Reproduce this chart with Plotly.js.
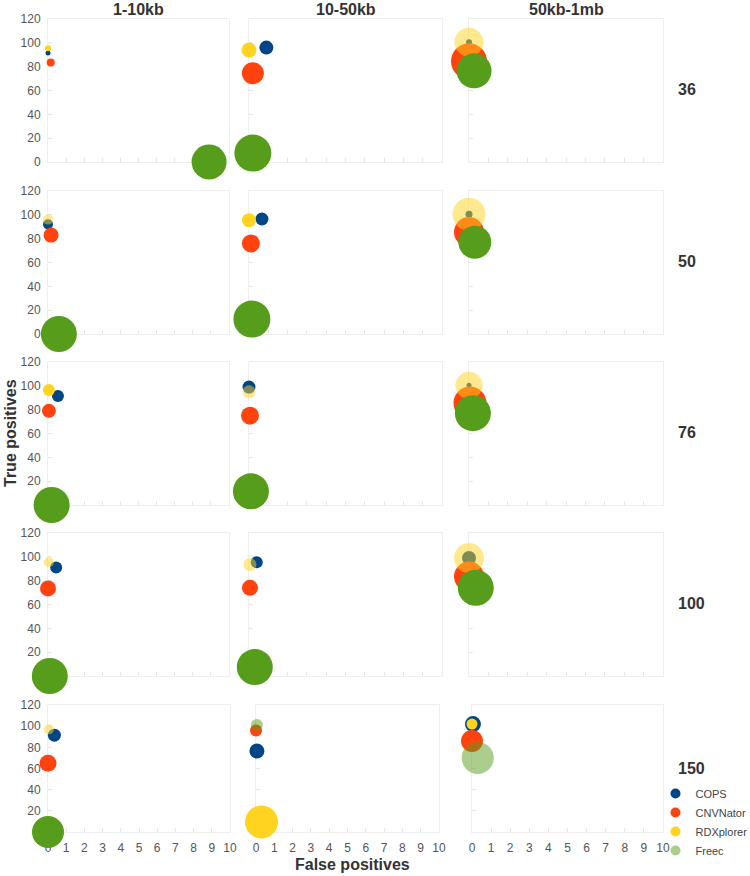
<!DOCTYPE html>
<html>
<head>
<meta charset="utf-8">
<script src="https://cdn.plot.ly/plotly-3.0.1.min.js"></script>
<style>html,body{margin:0;padding:0;background:#fff;}#chart{width:750px;height:876px;}</style>
</head>
<body>
<div id="chart"></div>
<script>
// Panels in row-major order: rows = read length, columns = CNV size range
const rowLabels = ["36", "50", "76", "100", "150"];
const colLabels = ["1-10kb", "10-50kb", "50kb-1mb"];
const methods = ["COPS", "CNVNator", "RDXplorer", "Freec"];

// False positives (x), true positives (y), bubble value per panel
const copsFP = [0, 0.9, 0, 0, 0.67, 0, 0.55, 0, 0, 0.45, 0.4, 0, 0.35, 0.05, 0.05];
const copsTP = [91.5, 96, 100.5, 92, 96.5, 100.5, 91.5, 99, 100.5, 91, 95.5, 99, 91.5, 76.5, 102];
const copsBubble = [5, 14, 6, 10, 13, 7, 12, 13, 5, 12, 12, 14, 13, 15, 16];

const cnvnatorFP = [0.15, 0.2, 0, 0.17, 0.1, 0, 0.05, 0.05, 0.05, 0, 0.05, 0, 0, 0, 0];
const cnvnatorTP = [83.5, 74.5, 84.5, 83, 76, 85.5, 79, 75, 85.5, 73.5, 74, 83.5, 65, 96, 86];
const cnvnatorBubble = [8, 22, 36, 15, 18, 30, 14, 18, 33, 16, 16, 30, 17, 12, 22];

const rdxFP = [0, 0, 0, 0, 0, 0, 0.05, 0, 0, 0.05, 0.05, 0, 0.05, 0.3, 0];
const rdxTP = [95.5, 94, 100.5, 96, 95.5, 100.5, 96.5, 95, 100.5, 95.5, 93.5, 99, 97, 9.5, 102];
const rdxBubble = [6, 15, 29, 10, 14, 33, 12, 13, 27, 10, 13, 30, 10, 33, 11];

const freecFP = [8.9, 0.2, 0.26, 0.6, 0.15, 0.3, 0.2, 0.1, 0.2, 0.1, 0.3, 0.35, 0, 0.05, 0.3];
const freecTP = [0, 7.5, 76.5, 0, 12.5, 77, 0, 11.5, 77, 0, 7.5, 74, 0, 101, 70];
const freecBubble = [35, 37, 35, 36, 37, 33, 36, 36, 36, 36, 36, 36, 32, 12, 32];

const xTicks = [0, 1, 2, 3, 4, 5, 6, 7, 8, 9, 10];
const yTicks = [0, 20, 40, 60, 80, 100, 120];

// ---- styles ----
const colors = {COPS: "#004586", CNVNator: "#ff420e", RDXplorer: "#ffd320", Freec: "#579d1c"};
const rdxOpacity = [1, 1, 0.5, 0.5, 1, 0.5, 1, 0.5, 0.5, 0.5, 0.5, 0.5, 0.5, 1, 1];
const freecOpacity = [1, 1, 1, 1, 1, 1, 1, 1, 1, 1, 1, 1, 1, 0.5, 0.5];

const W = 750, H = 876;
// pixel extents of each plot area
const rowPx = [[19, 162], [191, 334], [362, 505], [533, 676], [705, 832]];
const colPxTop = [[48, 229], [249, 442], [469, 663]];
const colPxBottom = [[48, 230], [256, 439], [472, 663]];

const series = [
  {name: "COPS", fp: copsFP, tp: copsTP, b: copsBubble, op: null},
  {name: "CNVNator", fp: cnvnatorFP, tp: cnvnatorTP, b: cnvnatorBubble, op: null},
  {name: "RDXplorer", fp: rdxFP, tp: rdxTP, b: rdxBubble, op: rdxOpacity},
  {name: "Freec", fp: freecFP, tp: freecTP, b: freecBubble, op: freecOpacity}
];

const font = "Liberation Sans, Arial, sans-serif";
const traces = [];
const layout = {
  width: W, height: H,
  margin: {l: 0, r: 0, t: 0, b: 0, autoexpand: false},
  paper_bgcolor: "#ffffff", plot_bgcolor: "#ffffff",
  font: {family: font, color: "#444444", size: 12},
  showlegend: true,
  legend: {x: 0.874, y: 1 - 822 / H, xanchor: "left", yanchor: "middle",
           font: {family: font, size: 11, color: "#444444"}, bgcolor: "rgba(0,0,0,0)",
           itemwidth: 30, tracegroupgap: 0},
  annotations: []
};

for (let r = 0; r < 5; r++) {
  for (let c = 0; c < 3; c++) {
    const i = r * 3 + c;
    const n = i + 1;
    const xa = n === 1 ? "x" : "x" + n;
    const ya = n === 1 ? "y" : "y" + n;
    const cp = (r === 4 ? colPxBottom : colPxTop)[c];
    const rp = rowPx[r];
    layout[n === 1 ? "xaxis" : "xaxis" + n] = {
      domain: [cp[0] / W, cp[1] / W], anchor: ya,
      range: [0, 10], tickvals: xTicks, showticklabels: r === 4,
      showgrid: false, zeroline: false, showline: true, mirror: true,
      linecolor: "#eeeeee", linewidth: 1, ticks: "inside", ticklen: 4, tickcolor: "#e6e6e6",
      ticklabelstandoff: 5,
      tickfont: {family: font, size: 12, color: "#555555"}, layer: "below traces", fixedrange: true
    };
    layout[n === 1 ? "yaxis" : "yaxis" + n] = {
      domain: [1 - rp[1] / H, 1 - rp[0] / H], anchor: xa,
      range: [0, 120], tickvals: yTicks, showticklabels: c === 0,
      showgrid: false, zeroline: false, showline: true, mirror: true,
      linecolor: "#eeeeee", linewidth: 1, ticks: "inside", ticklen: 4, tickcolor: "#e6e6e6",
      ticklabelstandoff: 4,
      tickfont: {family: font, size: 12, color: "#555555"}, layer: "below traces", fixedrange: true
    };
    series.forEach(s => {
      traces.push({
        type: "scatter", mode: "markers", xaxis: xa, yaxis: ya,
        x: [s.fp[i]], y: [s.tp[i]], name: s.name, legendgroup: s.name, showlegend: false,
        cliponaxis: false, hoverinfo: "skip",
        marker: {color: colors[s.name], size: [s.b[i]], sizemode: "diameter", sizeref: 1,
                 opacity: s.op ? s.op[i] : 1, line: {width: 0}}
      });
    });
  }
  layout.annotations.push({
    text: "<b>" + rowLabels[r] + "</b>", xref: "paper", yref: "paper",
    x: 676 / W, y: 1 - ((rowPx[r][0] + rowPx[r][1]) / 2 + (r === 4 ? 0 : -1)) / H,
    xanchor: "left", yanchor: "middle", showarrow: false,
    font: {family: font, size: 16, color: "#333333"}
  });
}
colLabels.forEach((t, c) => {
  const cp = colPxTop[c];
  layout.annotations.push({
    text: "<b>" + t + "</b>", xref: "paper", yref: "paper",
    x: (cp[0] + cp[1]) / 2 / W, y: 1 - 10 / H, xanchor: "center", yanchor: "middle",
    showarrow: false, font: {family: font, size: 16, color: "#333333"}
  });
});
layout.annotations.push({
  text: "<b>True positives</b>", xref: "paper", yref: "paper",
  x: 10 / W, y: 1 - 433 / H, xanchor: "center", yanchor: "middle", textangle: -90,
  showarrow: false, font: {family: font, size: 16, color: "#333333"}
});
layout.annotations.push({
  text: "<b>False positives</b>", xref: "paper", yref: "paper",
  x: 352 / W, y: 1 - 864 / H, xanchor: "center", yanchor: "middle",
  showarrow: false, font: {family: font, size: 16, color: "#333333"}
});

// legend entries
methods.forEach(m => {
  traces.push({
    type: "scatter", mode: "markers", x: [null], y: [null], name: m, legendgroup: m,
    showlegend: true, hoverinfo: "skip",
    marker: {color: colors[m], size: 10, opacity: m === "Freec" ? 0.5 : 1}
  });
});

Plotly.newPlot("chart", traces, layout, {staticPlot: true, displayModeBar: false});
</script>
</body>
</html>
